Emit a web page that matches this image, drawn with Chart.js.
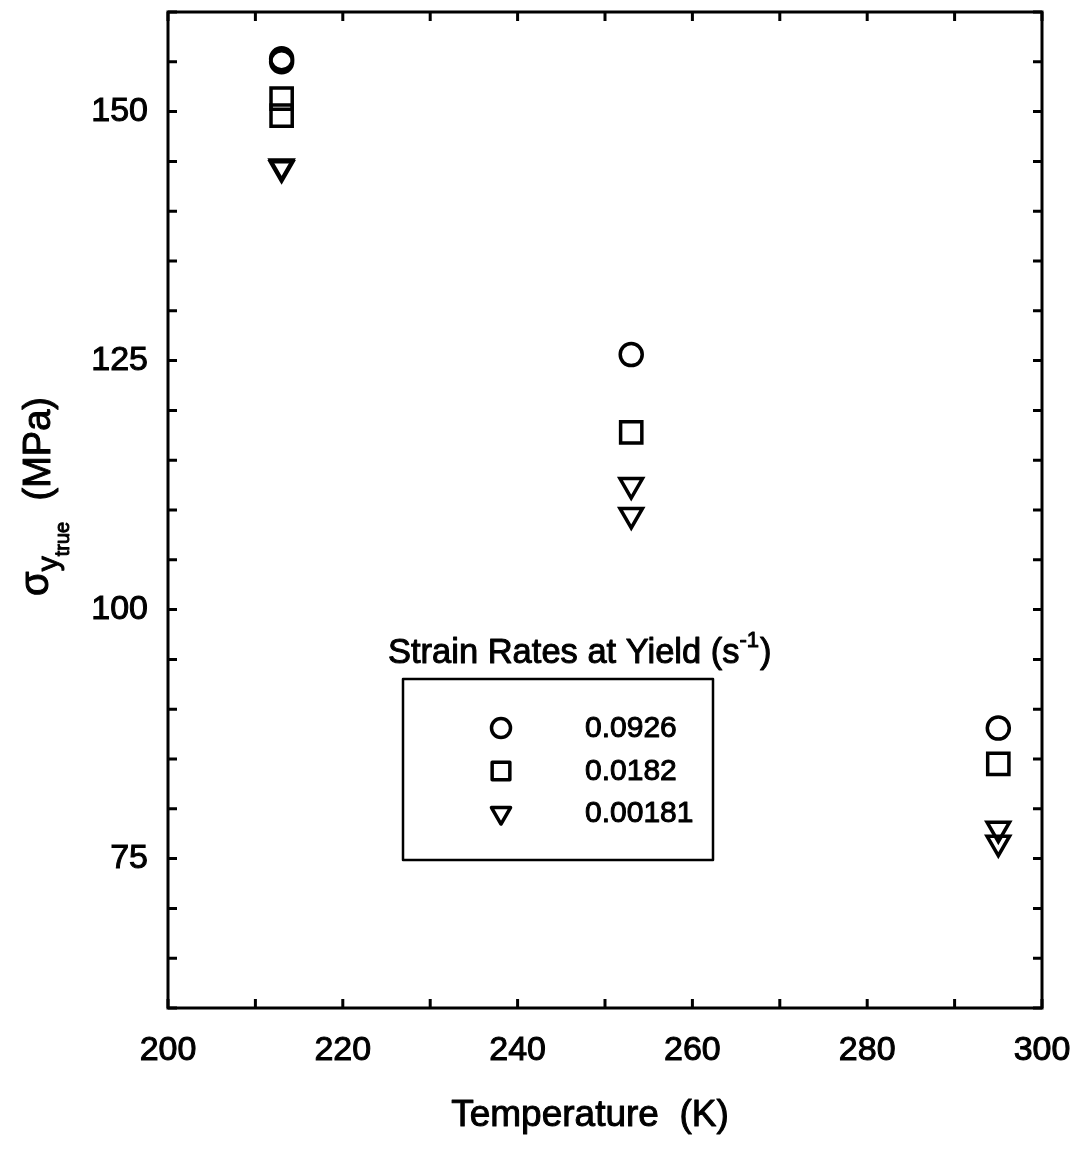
<!DOCTYPE html>
<html>
<head>
<meta charset="utf-8">
<title>Yield stress vs temperature</title>
<script src="https://cdn.jsdelivr.net/npm/chart.js@4/dist/chart.umd.min.js"></script>
<style>
  html, body { margin: 0; padding: 0; background: #fff; }
  #wrap { width: 1078px; height: 1173px; }
</style>
</head>
<body>
<div id="wrap"><canvas id="c" width="1078" height="1173"></canvas></div>
<script>
// Test temperatures (K) and true yield stress (MPa) for each strain rate
const rateLabels = ['0.0926', '0.0182', '0.00181'];

const tempFast = [213, 213, 253, 295];
const stressFast = [155.3, 155.0, 125.6, 88.1];

const tempMid = [213, 213, 253, 295];
const stressMid = [151.3, 149.6, 117.8, 84.5];

const tempSlow = [213, 213, 253, 253, 295, 295];
const stressSlow = [144.5, 144.3, 112.5, 109.5, 78.0, 76.6];

const xTickLabels = [200, 220, 240, 260, 280, 300];
const yTickLabels = [75, 100, 125, 150];

const FONT = '"Liberation Sans", Arial, Helvetica, sans-serif';

function pts(xs, ys) { return xs.map((x, i) => ({ x: x, y: ys[i] })); }

const markerStyles = [
  { pointStyle: 'circle', radius: 11, rotation: 0, legendRadius: 9.5 },
  { pointStyle: 'rect', radius: 15, rotation: 0, legendRadius: 12.5 },
  { pointStyle: 'triangle', radius: 13, rotation: 180, legendRadius: 11 }
];

function makeSet(label, xs, ys, m) {
  return {
    label: label,
    data: pts(xs, ys),
    pointStyle: m.pointStyle,
    pointRadius: m.radius,
    pointHoverRadius: m.radius,
    pointRotation: m.rotation,
    pointBorderWidth: 3.5,
    pointBorderColor: '#000',
    pointBackgroundColor: 'rgba(0,0,0,0)',
    showLine: false
  };
}

// filled text with a hairline outline so the glyphs read as heavy as the axes
function inkText(ctx, str, x, y) {
  ctx.fillText(str, x, y);
  ctx.strokeText(str, x, y);
}

// Frame, inward tick marks, axis titles and the boxed key
const decorations = {
  id: 'decorations',
  afterDraw(chart) {
    const ctx = chart.ctx;
    const a = chart.chartArea;
    const xs = chart.scales.x, ys = chart.scales.y;
    ctx.save();
    ctx.strokeStyle = '#000';
    ctx.lineWidth = 3;
    ctx.lineCap = 'butt';
    ctx.strokeRect(a.left, a.top, a.right - a.left, a.bottom - a.top);

    const tl = 9;
    ctx.beginPath();
    xs.ticks.forEach(t => {
      const px = xs.getPixelForValue(t.value);
      ctx.moveTo(px, a.bottom); ctx.lineTo(px, a.bottom - tl);
      ctx.moveTo(px, a.top); ctx.lineTo(px, a.top + tl);
    });
    ys.ticks.forEach(t => {
      const py = ys.getPixelForValue(t.value);
      ctx.moveTo(a.left, py); ctx.lineTo(a.left + tl, py);
      ctx.moveTo(a.right, py); ctx.lineTo(a.right - tl, py);
    });
    ctx.stroke();

    ctx.fillStyle = '#000';
    ctx.lineWidth = 1;
    ctx.lineJoin = 'round';

    // x-axis title
    ctx.font = '37px ' + FONT;
    ctx.textAlign = 'center';
    ctx.textBaseline = 'alphabetic';
    inkText(ctx, 'Temperature  (K)', 590, 1126);

    // y-axis title, rotated, with nested subscripts
    ctx.save();
    ctx.translate(50, 596);
    ctx.rotate(-Math.PI / 2);
    ctx.textAlign = 'left';
    let cx = 0;
    ctx.font = '40px ' + FONT;
    inkText(ctx, '\u03C3', 0, -2);
    cx += ctx.measureText('\u03C3').width;
    ctx.font = '30px ' + FONT;
    inkText(ctx, 'y', cx, 8);
    cx += ctx.measureText('y').width;
    ctx.font = '20px ' + FONT;
    inkText(ctx, 'true', cx, 19);
    ctx.font = '38px ' + FONT;
    ctx.textAlign = 'right';
    inkText(ctx, '(MPa)', 199, 0);
    ctx.restore();

    // key title with superscript
    ctx.textAlign = 'left';
    ctx.font = '34.5px ' + FONT;
    let kx = 388;
    const kTitle = 'Strain Rates at Yield (s';
    inkText(ctx, kTitle, kx, 663);
    kx += ctx.measureText(kTitle).width;
    ctx.font = '22px ' + FONT;
    inkText(ctx, '-1', kx, 647);
    kx += ctx.measureText('-1').width;
    ctx.font = '34.5px ' + FONT;
    inkText(ctx, ')', kx + 1, 663);

    // key box
    ctx.lineWidth = 2.5;
    ctx.strokeRect(403, 679, 310, 181);

    // key entries
    const rowY = [728, 771, 813];
    chart.data.datasets.forEach((ds, i) => {
      const m = markerStyles[i];
      ctx.fillStyle = 'rgba(0,0,0,0)';
      ctx.strokeStyle = '#000';
      ctx.lineWidth = 3.5;
      Chart.helpers.drawPoint(ctx, {
        pointStyle: m.pointStyle,
        radius: m.legendRadius,
        rotation: m.rotation,
        borderWidth: 3.5
      }, 501, rowY[i]);
      ctx.font = '30px ' + FONT;
      ctx.textBaseline = 'middle';
      ctx.fillStyle = '#000';
      ctx.lineWidth = 1;
      inkText(ctx, ds.label, 585, rowY[i] + 1);
      ctx.textBaseline = 'alphabetic';
    });
    ctx.restore();
  }
};

new Chart(document.getElementById('c'), {
  type: 'scatter',
  data: {
    datasets: [
      makeSet(rateLabels[0], tempFast, stressFast, markerStyles[0]),
      makeSet(rateLabels[1], tempMid, stressMid, markerStyles[1]),
      makeSet(rateLabels[2], tempSlow, stressSlow, markerStyles[2])
    ]
  },
  options: {
    responsive: false,
    animation: false,
    devicePixelRatio: 1,
    layout: { autoPadding: false, padding: { top: 12, right: 36, left: 0, bottom: 0 } },
    plugins: { legend: { display: false }, tooltip: { enabled: false } },
    scales: {
      x: {
        type: 'linear',
        min: 200, max: 300,
        grid: { display: false, drawTicks: false },
        border: { display: false },
        ticks: {
          stepSize: 10,
          autoSkip: false,
          maxRotation: 0,
          padding: 22,
          color: '#000',
          textStrokeColor: '#000',
          textStrokeWidth: 1,
          font: { size: 34, family: FONT },
          callback: v => xTickLabels.includes(v) ? String(v) : ''
        },
        afterFit: s => {
          s.height = 165;
          s.paddingLeft = 0; s.paddingRight = 0;
        }
      },
      y: {
        type: 'linear',
        min: 60, max: 160,
        grid: { display: false, drawTicks: false },
        border: { display: false },
        ticks: {
          stepSize: 5,
          autoSkip: false,
          padding: 20,
          color: '#000',
          textStrokeColor: '#000',
          textStrokeWidth: 1,
          font: { size: 34, family: FONT },
          callback: v => yTickLabels.includes(v) ? String(v) : ''
        },
        afterFit: s => {
          s.width = 168;
          s.paddingTop = 0; s.paddingBottom = 0;
        }
      }
    }
  },
  plugins: [decorations]
});
</script>
</body>
</html>
